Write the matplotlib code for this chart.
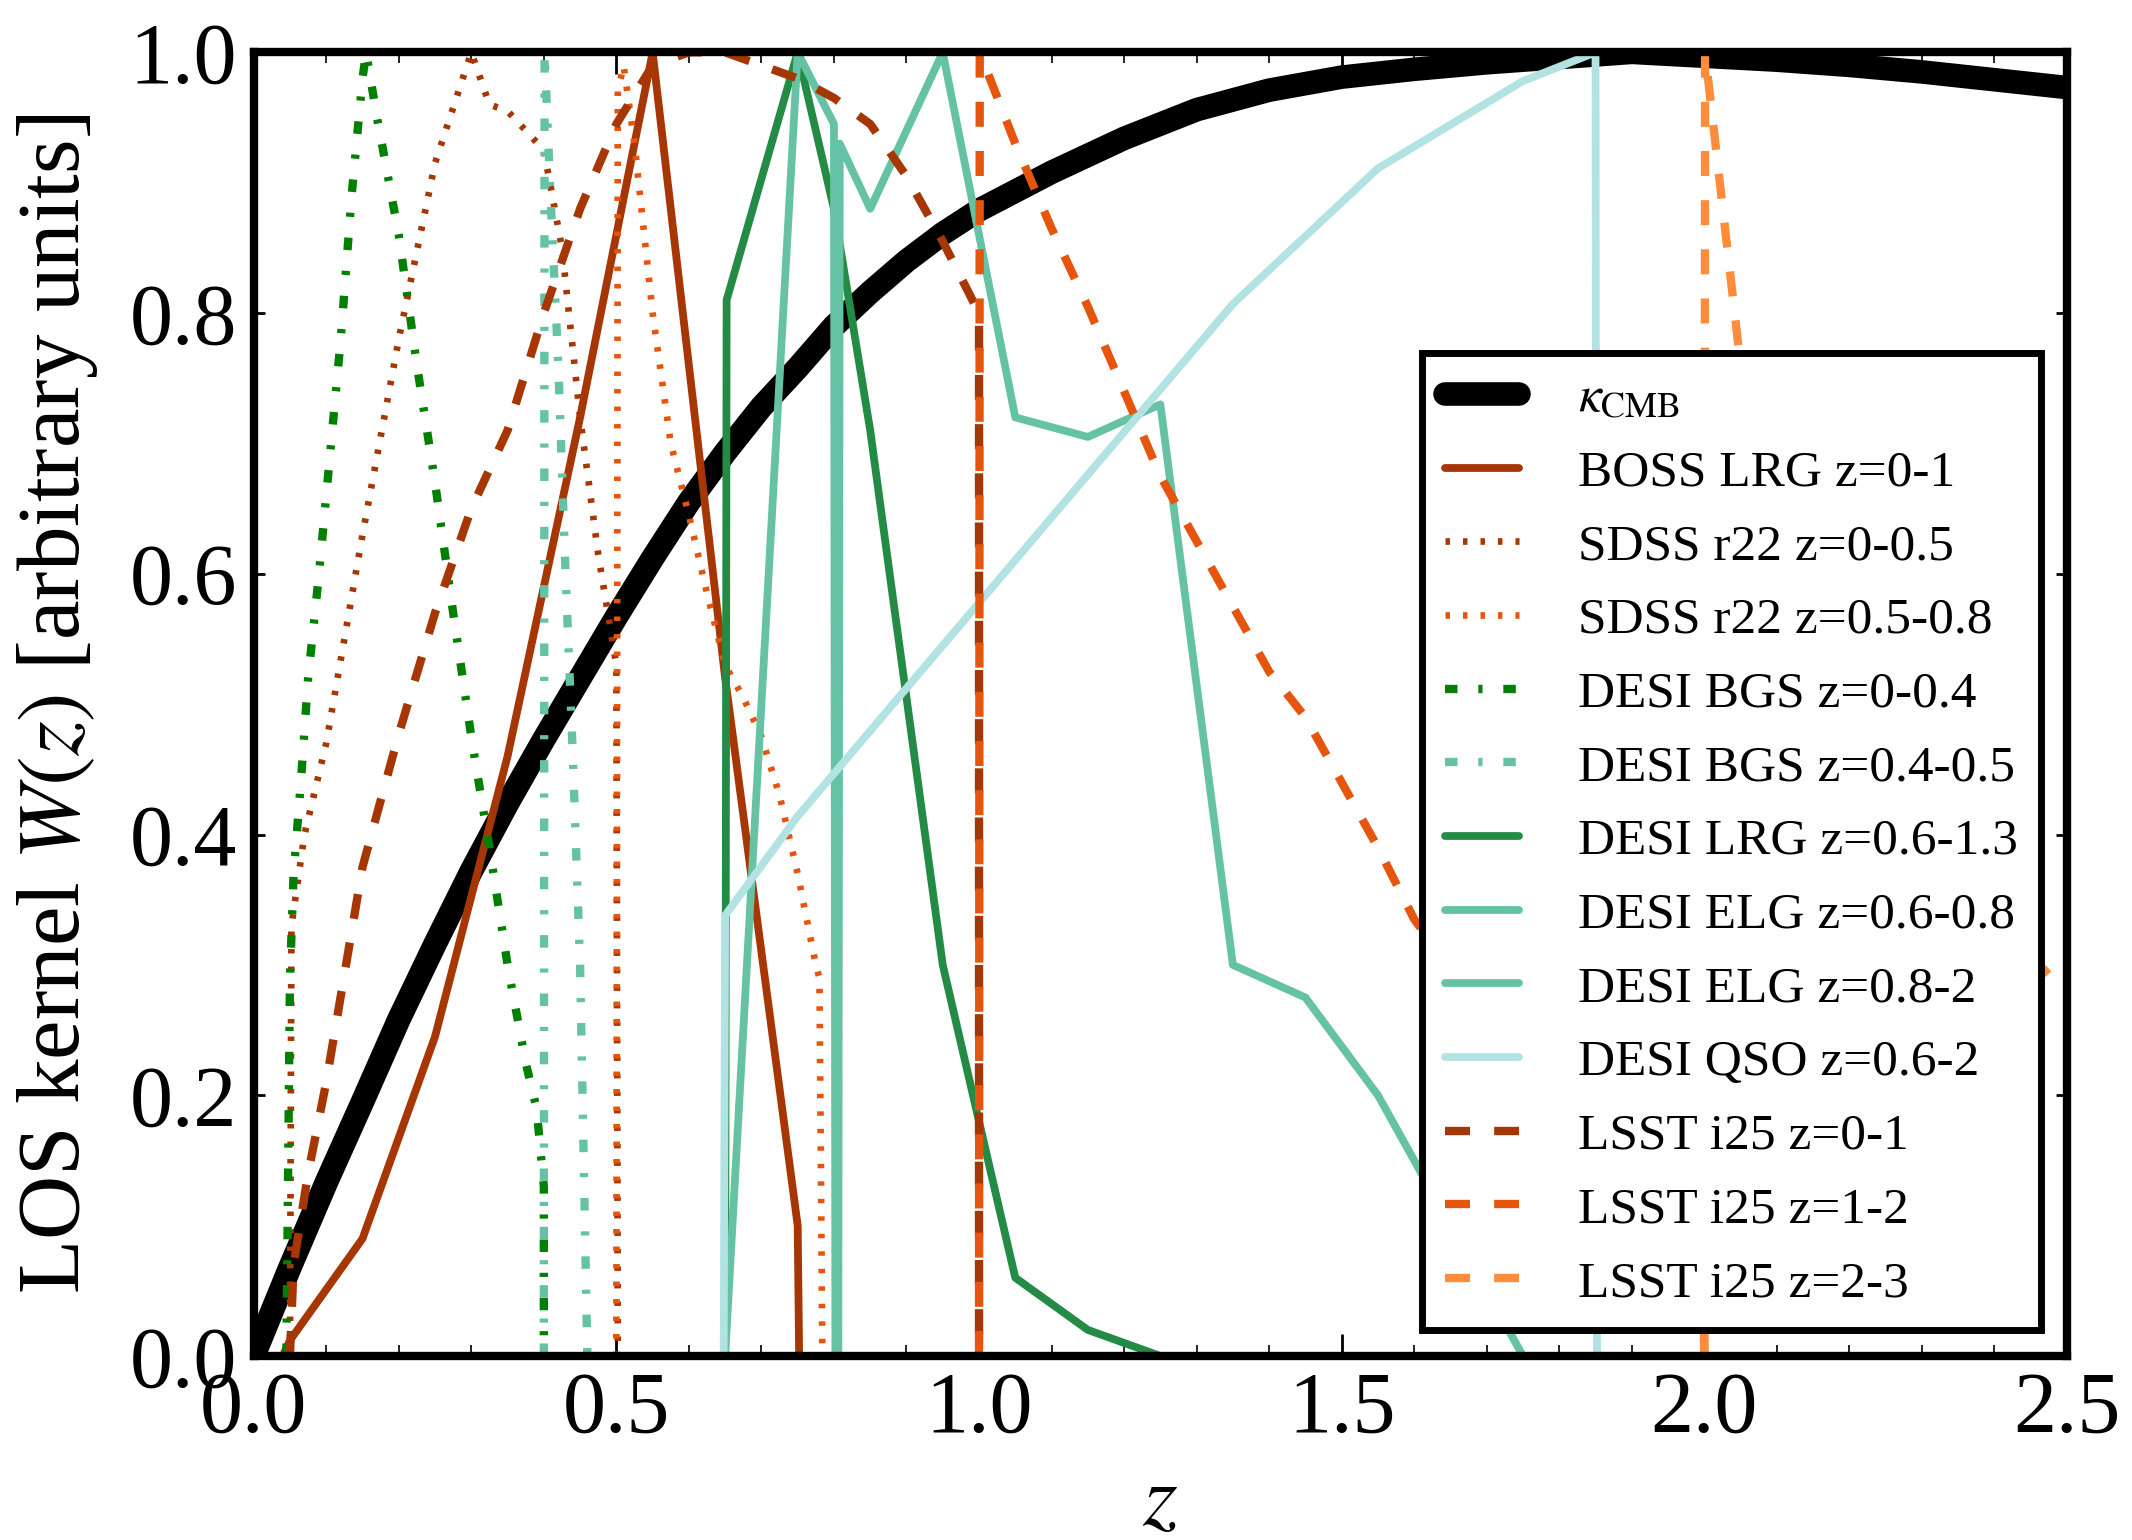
"""LOS kernels of CMB lensing and galaxy samples vs redshift."""

import matplotlib
matplotlib.use("Agg")
import matplotlib.pyplot as plt
from matplotlib.ticker import MultipleLocator

plt.rcParams["font.family"] = ["Liberation Serif", "DejaVu Serif"]
plt.rcParams["mathtext.fontset"] = "stix"
plt.rcParams["lines.scale_dashes"] = False

# kappa_CMB kernel
z_cmb = [0.0, 0.05, 0.1, 0.15, 0.2, 0.25, 0.3, 0.35, 0.4, 0.45, 0.5, 0.55, 0.6, 0.65,
         0.7, 0.75, 0.8, 0.85, 0.9, 0.95, 1.0, 1.1, 1.2, 1.3, 1.4, 1.5, 1.6, 1.7, 1.8,
         1.9, 2.0, 2.1, 2.2, 2.3, 2.4, 2.5]
w_cmb = [0.0, 0.068, 0.133, 0.195, 0.258, 0.316, 0.372, 0.424, 0.473, 0.52, 0.567, 0.612,
         0.655, 0.693, 0.728, 0.758, 0.79, 0.816, 0.84, 0.861, 0.879, 0.908, 0.934, 0.956,
         0.971, 0.981, 0.987, 0.992, 0.996, 1.0, 0.997, 0.994, 0.99, 0.985, 0.979, 0.973]

# BOSS LRG z=0-1
z_boss = [0.04, 0.05, 0.15, 0.25, 0.35, 0.45, 0.55, 0.65, 0.75, 0.752]
w_boss = [0.0, 0.012, 0.09, 0.245, 0.46, 0.72, 1.0, 0.52, 0.10, 0.0]

# SDSS r22 z=0-0.5
z_sdss1 = [0.05, 0.052, 0.07, 0.1, 0.15, 0.2, 0.25, 0.3, 0.325, 0.35, 0.375, 0.4,
           0.425, 0.45, 0.475, 0.5, 0.502]
w_sdss1 = [0.0, 0.33, 0.40, 0.47, 0.63, 0.78, 0.915, 1.0, 0.96, 0.955, 0.94, 0.925,
           0.85, 0.72, 0.615, 0.53, 0.0]

# SDSS r22 z=0.5-0.8
z_sdss2 = [0.5, 0.502, 0.51, 0.525, 0.55, 0.575, 0.6, 0.625, 0.65, 0.675, 0.7, 0.725,
           0.75, 0.775, 0.78, 0.784]
w_sdss2 = [0.0, 0.97, 0.99, 0.93, 0.80, 0.70, 0.645, 0.585, 0.53, 0.505, 0.475, 0.43,
           0.37, 0.30, 0.29, 0.0]

# DESI BGS z=0-0.4
z_bgs1 = [0.045, 0.05, 0.055, 0.065, 0.075, 0.09, 0.105, 0.12, 0.135, 0.15, 0.155, 0.17,
          0.2, 0.225, 0.25, 0.275, 0.3, 0.325, 0.35, 0.375, 0.39, 0.4, 0.4]
w_bgs1 = [0.0, 0.29, 0.37, 0.44, 0.52, 0.60, 0.69, 0.78, 0.89, 0.98, 1.0, 0.95,
          0.86, 0.76, 0.67, 0.57, 0.475, 0.39, 0.30, 0.225, 0.19, 0.13, 0.0]

# DESI BGS z=0.4-0.5
z_bgs2 = [0.4, 0.401, 0.41, 0.42, 0.43, 0.44, 0.45, 0.46]
w_bgs2 = [0.0, 1.0, 0.88, 0.76, 0.60, 0.46, 0.30, 0.0]

# DESI LRG z=0.6-1.3
z_dlrg = [0.65, 0.652, 0.75, 0.8, 0.85, 0.95, 1.05, 1.15, 1.25]
w_dlrg = [0.0, 0.81, 1.0, 0.88, 0.71, 0.30, 0.06, 0.02, 0.0]

# DESI ELG z=0.6-0.8
z_elg1 = [0.65, 0.75, 0.8, 0.802]
w_elg1 = [0.0, 1.0, 0.945, 0.0]

# DESI ELG z=0.8-2
z_elg2 = [0.806, 0.808, 0.85, 0.95, 1.05, 1.15, 1.25, 1.35, 1.45, 1.55, 1.65, 1.75]
w_elg2 = [0.0, 0.93, 0.88, 1.0, 0.72, 0.705, 0.73, 0.30, 0.275, 0.20, 0.10, 0.0]

# DESI QSO z=0.6-2
z_qso = [0.648, 0.65, 0.75, 1.35, 1.55, 1.75, 1.85, 1.852]
w_qso = [0.0, 0.338, 0.414, 0.807, 0.911, 0.978, 1.0, 0.0]

# LSST i25 z=0-1
z_lsst1 = [0.05, 0.055, 0.075, 0.1, 0.15, 0.2, 0.25, 0.3, 0.35, 0.4, 0.45, 0.5, 0.55,
           0.6, 0.65, 0.7, 0.75, 0.8, 0.85, 0.9, 0.95, 1.0, 1.0]
w_lsst1 = [0.0, 0.07, 0.14, 0.21, 0.375, 0.477, 0.57, 0.65, 0.71, 0.80, 0.88, 0.945, 0.99,
           1.0, 1.0, 0.99, 0.98, 0.965, 0.945, 0.905, 0.855, 0.80, 0.0]

# LSST i25 z=1-2
z_lsst2 = [1.0, 1.001, 1.05, 1.1, 1.15, 1.2, 1.25, 1.3, 1.35, 1.4, 1.45, 1.5, 1.55, 1.6,
           1.7, 1.8, 1.9, 1.998, 2.0]
w_lsst2 = [0.0, 1.0, 0.93, 0.865, 0.805, 0.74, 0.675, 0.625, 0.575, 0.525, 0.49, 0.44,
           0.39, 0.335, 0.26, 0.19, 0.13, 0.09, 0.0]

# LSST i25 z=2-3
z_lsst3 = [2.0, 2.001, 2.05, 2.1, 2.2, 2.3, 2.4, 2.5]
w_lsst3 = [0.0, 1.0, 0.76, 0.42, 0.29, 0.25, 0.26, 0.31]

DOT = (1.6, 4.7)
DASH = (9, 8.7)
DASHDOT = (4.5, 7.5, 1.5, 7.5)

fig = plt.figure(figsize=(10.66, 7.7), dpi=200)
ax = fig.add_subplot(111)
fig.subplots_adjust(left=0.119, right=0.9695, top=0.966, bottom=0.1195)

ax.plot(z_cmb, w_cmb, color="k", lw=8.5, solid_capstyle="round", label=r"$\kappa_{\rm CMB}$")
ax.plot(z_boss, w_boss, color="#a63603", lw=2.8, solid_capstyle="round", label="BOSS LRG z=0-1")
ax.plot(z_sdss1, w_sdss1, color="#a63603", lw=2.4, dashes=DOT, label="SDSS r22 z=0-0.5")
ax.plot(z_sdss2, w_sdss2, color="#e6550d", lw=2.4, dashes=DOT, label="SDSS r22 z=0.5-0.8")
ax.plot(z_bgs1, w_bgs1, color="#008000", lw=3, dashes=DASHDOT, label="DESI BGS z=0-0.4")
ax.plot(z_bgs2, w_bgs2, color="#66c2a4", lw=3, dashes=DASHDOT, label="DESI BGS z=0.4-0.5")
ax.plot(z_dlrg, w_dlrg, color="#238b45", lw=2.8, solid_capstyle="round", label="DESI LRG z=0.6-1.3")
ax.plot(z_elg1, w_elg1, color="#66c2a4", lw=2.8, solid_capstyle="round", label="DESI ELG z=0.6-0.8")
ax.plot(z_elg2, w_elg2, color="#66c2a4", lw=2.8, solid_capstyle="round", label="DESI ELG z=0.8-2")
ax.plot(z_qso, w_qso, color="#b2e2e2", lw=2.8, solid_capstyle="round", label="DESI QSO z=0.6-2")
ax.plot(z_lsst1, w_lsst1, color="#a63603", lw=3, dashes=DASH, label="LSST i25 z=0-1")
ax.plot(z_lsst2, w_lsst2, color="#e6550d", lw=3, dashes=DASH, label="LSST i25 z=1-2")
ax.plot(z_lsst3, w_lsst3, color="#fd8d3c", lw=3, dashes=DASH, label="LSST i25 z=2-3")

ax.set_xlim(0, 2.5)
ax.set_ylim(0, 1.0)
ax.xaxis.set_major_locator(MultipleLocator(0.5))
ax.xaxis.set_minor_locator(MultipleLocator(0.1))
ax.yaxis.set_major_locator(MultipleLocator(0.2))

ax.tick_params(which="both", direction="in", top=True, right=True)
ax.tick_params(axis="x", which="major", length=8, width=1.0, pad=5.5, labelsize=31)
ax.tick_params(axis="x", which="minor", length=4, width=0.6)
ax.tick_params(axis="y", which="major", length=4, width=1.0, pad=6, labelsize=31)
for sp in ax.spines.values():
    sp.set_linewidth(3)

ax.set_xlabel(r"$z$", fontsize=32)
ax.set_ylabel(r"LOS kernel $W(z)$ [arbitrary units]", fontsize=32)
ax.xaxis.set_label_coords(0.5, -0.082)
ax.yaxis.set_label_coords(-0.085, 0.5)

leg = ax.legend(loc="lower right", fontsize=18.5, labelspacing=0.52, handlelength=1.45,
                handletextpad=1.15, borderpad=0.45, fancybox=False, framealpha=1)
leg.get_frame().set_edgecolor("k")
leg.get_frame().set_linewidth(2.5)

fig.savefig("out.png", dpi=200)
